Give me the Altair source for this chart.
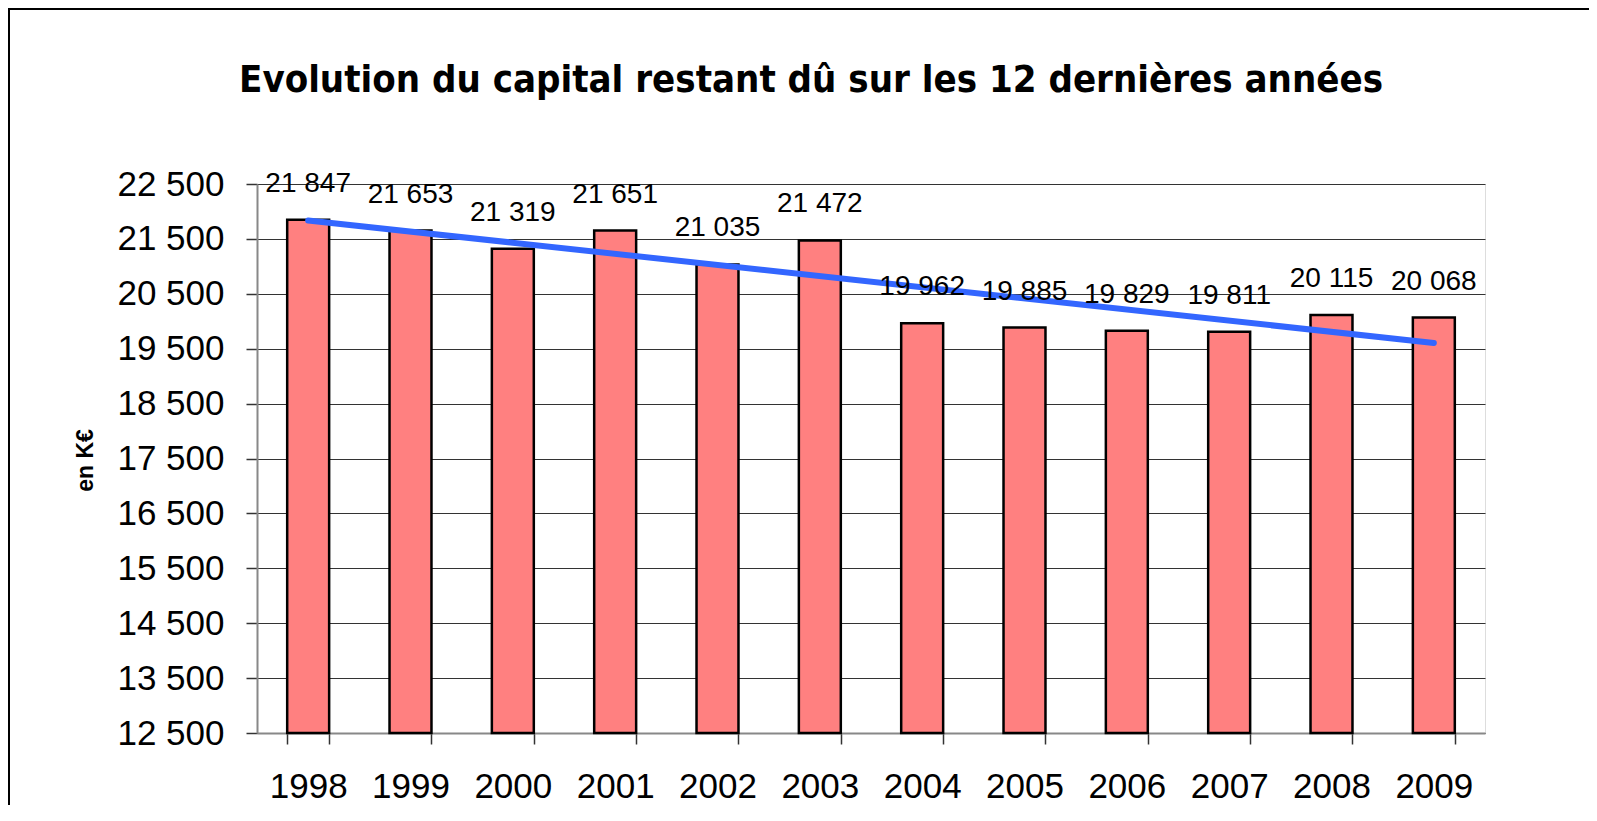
import altair as alt
import pandas as pd

# ---- data ----
years = [1998, 1999, 2000, 2001, 2002, 2003, 2004, 2005, 2006, 2007, 2008, 2009]
capital = [21847, 21653, 21319, 21651, 21035, 21472, 19962, 19885, 19829, 19811, 20115, 20068]
y_ticks = [12500, 13500, 14500, 15500, 16500, 17500, 18500, 19500, 20500, 21500, 22500]
title_text = "Evolution du capital restant dû sur les 12 dernières années"
y_title = "en K€"

df = pd.DataFrame({"year": years, "value": capital})

W, H = 1228, 549
Y_MIN, Y_MAX = y_ticks[0], y_ticks[-1]
FONT = "Liberation Sans, Arial, sans-serif"

x_enc = alt.X(
    "year:O",
    scale=alt.Scale(paddingInner=0.59, paddingOuter=0.295),
    axis=alt.Axis(
        title=None,
        labelAngle=0,
        labelFont=FONT,
        labelFontSize=35,
        labelColor="black",
        labelBaseline="alphabetic",
        labelPadding=53,
        tickBand="extent",
        tickSize=11,
        tickColor="#333333",
        tickWidth=1.5,
        domainColor="#888888",
        domainWidth=2,
        grid=False,
    ),
)

y_scale = alt.Scale(domain=[Y_MIN, Y_MAX], nice=False, zero=False)
y_axis = alt.Axis(
    values=y_ticks,
    labelExpr="replace(format(datum.value, ','), ',', ' ')",
    labelFont=FONT,
    labelFontSize=35,
    labelColor="black",
    labelPadding=22,
    tickSize=11,
    tickColor="#333333",
    tickWidth=1.5,
    domainColor="#888888",
    domainWidth=2,
    grid=True,
    gridColor="#333333",
    gridWidth=1,
    title=y_title,
    titleFont=FONT,
    titleFontSize=23,
    titleFontWeight="bold",
    titleColor="black",
    titleAngle=270,
    titleAlign="center",
    titleBaseline="middle",
    titleX=-172,
    titleY=276,
)

base = alt.Chart(df)

bars = base.mark_bar(fill="#FF8080", stroke="black", strokeWidth=2.5).encode(
    x=x_enc,
    y=alt.Y("value:Q", scale=y_scale, axis=y_axis),
    y2=alt.Y2(datum=Y_MIN),
)

trend = base.transform_regression("year", "value").mark_line(
    color="#3366FF", strokeWidth=6, strokeCap="round"
).encode(x="year:O", y="value:Q")

labels = base.transform_calculate(
    label="replace(format(datum.value, ','), ',', ' ')"
).mark_text(
    font=FONT, fontSize=28, color="black", baseline="alphabetic", align="center", dy=-28
).encode(x="year:O", y="value:Q", text="label:N")

one = alt.Chart(pd.DataFrame({"t": [title_text]}))

title = one.mark_text(
    font="Liberation Sans Narrow, DejaVu Sans Condensed, sans-serif",
    fontSize=38,
    fontWeight="bold",
    color="black",
    baseline="alphabetic",
    align="center",
).encode(text="t:N", x=alt.value(554), y=alt.value(-92))

frame_top = one.mark_rule(color="black", strokeWidth=2).encode(
    x=alt.value(-249), x2=alt.value(1340), y=alt.value(-175)
)
frame_left = one.mark_rule(color="black", strokeWidth=2).encode(
    x=alt.value(-248), y=alt.value(-176), y2=alt.value(640)
)

chart = (
    alt.layer(bars, trend, labels, title, frame_top, frame_left)
    .properties(
        width=W,
        height=H,
        autosize=alt.AutoSizeParams(type="none"),
        padding={"left": 249, "top": 176, "right": 104, "bottom": 72},
    )
    .configure_view(fill="#CCFFCC", stroke="#888888", strokeWidth=2)
    .configure(background="white")
)

chart.save("out.html", embed_options={"renderer": "svg", "actions": False})
